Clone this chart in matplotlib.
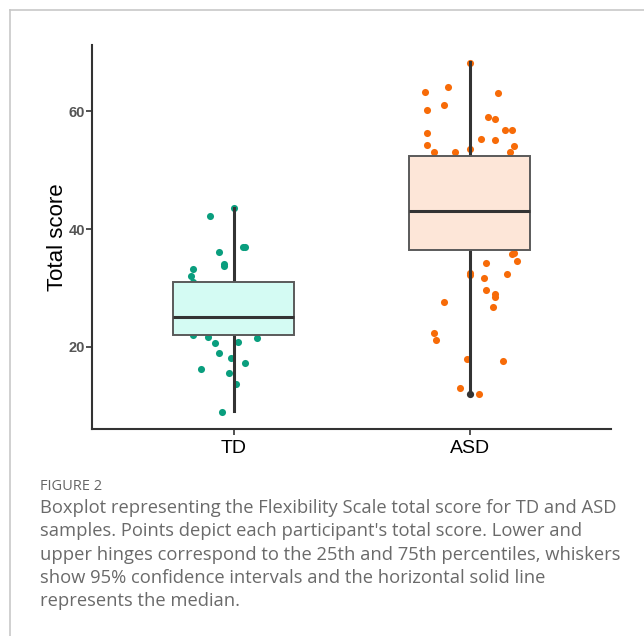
import matplotlib
matplotlib.use("Agg")
import matplotlib.pyplot as plt
from matplotlib.lines import Line2D

groups = ["TD", "ASD"]

# box stats (whiskers are 95% CI, not data-derived)
q1 = [22.0, 36.4]
med = [25.0, 43.0]
q3 = [31.0, 52.4]
whis_lo = [9.2, 12.0]
whis_hi = [43.6, 68.3]
outliers = [[], [12.0]]

# participant scores with jitter offsets (category units)
td_score = [43.6, 42.2, 36.1, 36.9, 36.9, 34.0, 33.7, 33.3, 32.0, 31.1,
            22.0, 21.7, 21.5, 20.6, 20.9, 18.9, 18.2, 17.3, 16.3, 15.6, 13.8, 9.0]
td_jit = [0.00, -0.10, -0.06, 0.04, 0.05, -0.04, -0.04, -0.17, -0.18, -0.17,
          -0.17, -0.11, 0.10, -0.08, 0.02, -0.06, -0.01, 0.05, -0.14, -0.02, 0.01, -0.05]

asd_score = [68.2, 63.3, 64.0, 63.1, 60.2, 61.0, 59.0, 58.7, 56.3, 56.7,
             56.8, 55.3, 55.1, 54.2, 54.1, 53.0, 53.0, 53.6, 53.0, 36.0,
             35.8, 34.6, 34.3, 32.6, 32.2, 32.3, 31.7, 29.7, 29.0, 28.5,
             27.6, 26.8, 22.3, 21.2, 18.0, 17.7, 13.1, 12.0]
asd_jit = [0.00, -0.19, -0.09, 0.12, -0.18, -0.11, 0.08, 0.11, -0.18, 0.15,
           0.18, 0.05, 0.11, -0.18, 0.19, -0.15, -0.06, 0.00, 0.17, 0.19,
           0.18, 0.20, 0.07, 0.00, 0.00, 0.16, 0.06, 0.07, 0.11, 0.11,
           -0.11, 0.10, -0.15, -0.14, -0.01, 0.14, -0.04, 0.04]

point_colors = ["#0a9e7e", "#f76b08"]
fill_colors = ["#d4fbf3", "#fde6d8"]

caption_lines = [
    "Boxplot representing the Flexibility Scale total score for TD and ASD",
    "samples. Points depict each participant's total score. Lower and",
    "upper hinges correspond to the 25th and 75th percentiles, whiskers",
    "show 95% confidence intervals and the horizontal solid line",
    "represents the median.",
]

fig = plt.figure(figsize=(6.44, 6.36), dpi=100)
ax = fig.add_axes([0.1429, 0.3255, 0.806, 0.6038])

# jittered points first, boxes drawn over them
pos = [1, 2]
ax.scatter([pos[0] + j for j in td_jit], td_score, s=26, color=point_colors[0],
           linewidths=0, zorder=1)
ax.scatter([pos[1] + j for j in asd_jit], asd_score, s=26, color=point_colors[1],
           linewidths=0, zorder=1)

stats = []
for i, g in enumerate(groups):
    stats.append(dict(label=g, q1=q1[i], med=med[i], q3=q3[i],
                      whislo=whis_lo[i], whishi=whis_hi[i], fliers=outliers[i]))

bp = ax.bxp(stats, positions=pos, widths=0.51, patch_artist=True, showcaps=False,
            boxprops=dict(edgecolor="#5a5a5a", linewidth=1.4),
            medianprops=dict(color="#333333", linewidth=2.2),
            whiskerprops=dict(color="#333333", linewidth=2.2),
            flierprops=dict(marker="o", markersize=5.2, markerfacecolor="#333333",
                            markeredgewidth=0))
for patch, c in zip(bp["boxes"], fill_colors):
    patch.set_facecolor(c)
    patch.set_zorder(2)
for key in ["medians", "fliers"]:
    for art in bp[key]:
        art.set_zorder(3)
# whiskers sit behind the box fill
for art in bp["whiskers"]:
    art.set_zorder(1.5)

ax.set_xlim(0.4, 2.6)
ax.set_ylim(6.1, 71.2)
ax.set_yticks([20, 40, 60])
ax.set_xticks(pos)
ax.set_xticklabels(groups, fontsize=14, color="black", family="Liberation Sans")
for lab in ax.get_yticklabels():
    lab.set_fontsize(10.5)
    lab.set_fontweight("bold")
    lab.set_color("#555555")
    lab.set_family("Liberation Sans")
ax.set_ylabel("Total score", fontsize=16, color="black",
              family="Liberation Sans")
ax.yaxis.set_label_coords(-0.046, 0.5)

for side in ["top", "right"]:
    ax.spines[side].set_visible(False)
for side in ["left", "bottom"]:
    ax.spines[side].set_color("#333333")
    ax.spines[side].set_linewidth(1.5)
ax.tick_params(axis="both", color="#333333", length=4, width=1.2)
ax.tick_params(axis="x", pad=4)
ax.tick_params(axis="y", pad=1)

# page frame (left and top rules)
fig.add_artist(Line2D([9.5 / 644, 9.5 / 644], [0, 1 - 9.5 / 636],
                      color="#c8c8c8", linewidth=1.2))
fig.add_artist(Line2D([9.5 / 644, 1], [1 - 9.5 / 636, 1 - 9.5 / 636],
                      color="#c8c8c8", linewidth=1.2))

fig.text(40 / 644, 1 - 487 / 636, "FIGURE 2", fontsize=10.5, color="#666666",
         family="Open Sans", va="center")
for k, line in enumerate(caption_lines):
    fig.text(40 / 644, 1 - (508 + 23.3 * k) / 636, line, fontsize=13.2,
             color="#6a6a6a", family="Open Sans", va="center")

fig.savefig("out.png", dpi=100)
